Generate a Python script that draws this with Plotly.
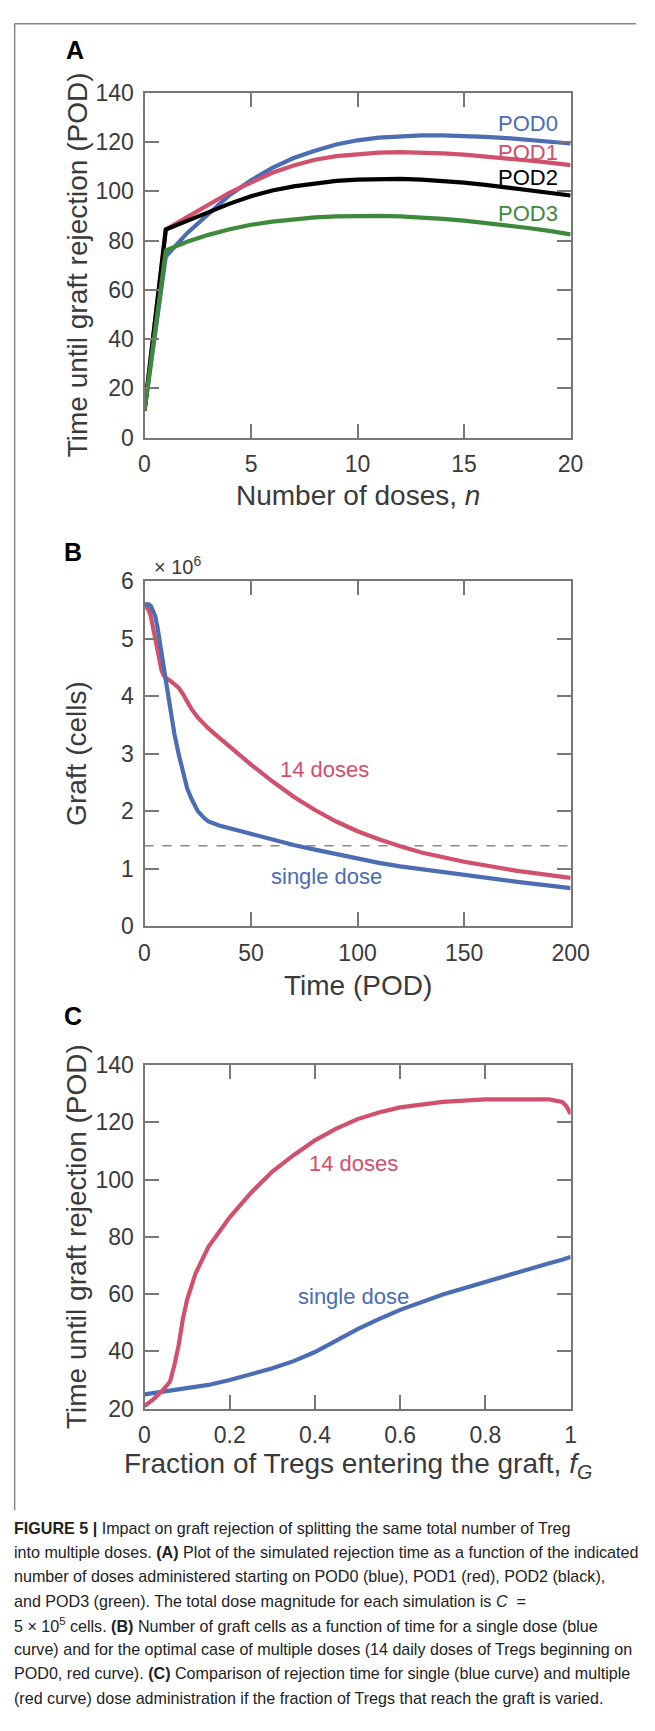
import plotly.graph_objects as go

W, H = 655, 1731

# ---------------- Panel A data ----------------
doses = list(range(0, 21))
pod0 = [11, 73.5, 83, 91, 98.5, 104.5, 109.5, 113.5, 116.5, 119, 120.7, 121.8, 122.4, 122.7, 122.7, 122.5, 122.1, 121.6, 121.0, 120.2, 119.4]
pod1 = [11, 84.5, 89.5, 94.5, 99.5, 103.5, 107.5, 110.5, 112.8, 114.3, 115.2, 115.7, 115.9, 115.8, 115.4, 114.9, 114.2, 113.4, 112.5, 111.6, 110.6]
pod2 = [11, 84.5, 88, 91.5, 95, 98, 100.3, 102, 103.3, 104.2, 104.7, 105, 105, 104.7, 104.2, 103.5, 102.6, 101.6, 100.5, 99.4, 98.3]
pod3 = [11, 76, 79.5, 82.3, 84.6, 86.4, 87.7, 88.7, 89.4, 89.8, 90, 90, 89.8, 89.4, 88.8, 88.1, 87.2, 86.2, 85.1, 83.9, 82.5]
a_names = ["POD0", "POD1", "POD2", "POD3"]

# ---------------- Panel B data (x 10^6 cells) ----------------
time_pod = [0, 2, 3, 4, 5, 6, 7, 8, 9, 10, 12, 14, 16, 18, 20, 22, 25, 28, 30, 35, 40, 50, 60, 70, 80, 90, 100, 110, 120, 130, 150, 175, 200]
graft_single = [5.60, 5.60, 5.57, 5.50, 5.40, 5.22, 5.02, 4.78, 4.52, 4.28, 3.76, 3.35, 3.00, 2.70, 2.40, 2.22, 2.00, 1.88, 1.82, 1.75, 1.70, 1.61, 1.50, 1.41, 1.33, 1.25, 1.17, 1.10, 1.04, 0.99, 0.88, 0.77, 0.66]
graft_14 = [5.60, 5.50, 5.38, 5.20, 5.02, 4.82, 4.62, 4.45, 4.36, 4.32, 4.27, 4.22, 4.15, 4.04, 3.90, 3.78, 3.63, 3.51, 3.44, 3.28, 3.12, 2.81, 2.52, 2.25, 2.02, 1.82, 1.65, 1.51, 1.39, 1.28, 1.12, 0.96, 0.84]
threshold_x = [0, 200]
threshold_y = [1.4, 1.4]

# ---------------- Panel C data ----------------
frac = [0, 0.02, 0.04, 0.06, 0.07, 0.08, 0.09, 0.1, 0.12, 0.15, 0.2, 0.25, 0.3, 0.35, 0.4, 0.45, 0.5, 0.55, 0.6, 0.7, 0.8, 0.9, 0.95, 0.98, 0.99, 1.0]
rej_14 = [20.9, 23.2, 26, 29.5, 35.2, 42.1, 51.3, 58.1, 67.3, 76.5, 86.8, 95.4, 102.8, 108.5, 113.7, 117.8, 121.1, 123.4, 125.2, 127.1, 128.0, 128.2, 128.0, 127.1, 125.7, 122.9]
rej_single = [25, 25.4, 25.8, 26.2, 26.4, 26.6, 26.8, 27.1, 27.6, 28.3, 30.0, 32.0, 34.1, 36.6, 39.8, 43.8, 47.8, 51.3, 54.5, 59.9, 64.4, 68.7, 70.8, 72.0, 72.5, 73.0]

# tick labels
a_xticks = [0, 5, 10, 15, 20]
a_yticks = [0, 20, 40, 60, 80, 100, 120, 140]
b_xticks = [0, 50, 100, 150, 200]
b_yticks = [0, 1, 2, 3, 4, 5, 6]
c_xticks = [0, 0.2, 0.4, 0.6, 0.8, 1]
c_xtext = ["0", "0.2", "0.4", "0.6", "0.8", "1"]
c_yticks = [20, 40, 60, 80, 100, 120, 140]

BLUE = "#4a6db3"
RED = "#d1506c"
BLACK = "#000000"
GREEN = "#3d8a3a"
AXC = "#777777"
TXT = "#3a3a3a"
FONT = "Liberation Sans, Arial, Helvetica, sans-serif"


def px(x):
    return x / W


def py(y):
    return 1 - y / H


L, R = 144, 587
boxes = {"A": (81, 431), "B": (577, 927), "C": (1068, 1417)}

fig = go.Figure()

# Panel A traces
for ys, c, nm in [(pod0, BLUE, "POD0"), (pod1, RED, "POD1"), (pod2, BLACK, "POD2"), (pod3, GREEN, "POD3")]:
    fig.add_trace(go.Scatter(x=doses, y=ys, mode="lines", line=dict(color=c, width=4.2), name=nm,
                             xaxis="x", yaxis="y", showlegend=False))

# Panel B traces
fig.add_trace(go.Scatter(x=threshold_x, y=threshold_y, mode="lines", line=dict(color="#888888", width=1.5, dash="dash"),
                         xaxis="x2", yaxis="y2", showlegend=False))
fig.add_trace(go.Scatter(x=time_pod, y=graft_14, mode="lines", line=dict(color=RED, width=4.2),
                         xaxis="x2", yaxis="y2", showlegend=False))
fig.add_trace(go.Scatter(x=time_pod, y=graft_single, mode="lines", line=dict(color=BLUE, width=4.2),
                         xaxis="x2", yaxis="y2", showlegend=False))

# Panel C traces
fig.add_trace(go.Scatter(x=frac, y=rej_single, mode="lines", line=dict(color=BLUE, width=4.2),
                         xaxis="x3", yaxis="y3", showlegend=False))
fig.add_trace(go.Scatter(x=frac, y=rej_14, mode="lines", line=dict(color=RED, width=4.2),
                         xaxis="x3", yaxis="y3", showlegend=False))


def ax_common(**kw):
    d = dict(showline=True, linecolor=AXC, linewidth=2, mirror="ticks", ticks="inside", ticklen=14,
             tickwidth=2, tickcolor=AXC, showgrid=False, zeroline=False,
             tickfont=dict(family=FONT, size=23, color=TXT), fixedrange=True)
    d.update(kw)
    return d


dom_x = [px(L), px(R)]
fig.update_layout(
    width=W, height=H, margin=dict(l=0, r=0, t=0, b=0),
    paper_bgcolor="white", plot_bgcolor="white",
    xaxis=ax_common(domain=dom_x, range=[0, 20], tickvals=a_xticks, anchor="y", ticklabelstandoff=5),
    yaxis=ax_common(domain=[py(boxes["A"][1]), py(boxes["A"][0])], range=[0, 140], tickvals=a_yticks, anchor="x", ticklabelstandoff=4),
    xaxis2=ax_common(domain=dom_x, range=[0, 200], tickvals=b_xticks, anchor="y2", ticklabelstandoff=5),
    yaxis2=ax_common(domain=[py(boxes["B"][1]), py(boxes["B"][0])], range=[0, 6], tickvals=b_yticks, anchor="x2", ticklabelstandoff=4),
    xaxis3=ax_common(domain=dom_x, range=[0, 1], tickvals=c_xticks, ticktext=c_xtext, anchor="y3", ticklabelstandoff=5),
    yaxis3=ax_common(domain=[py(boxes["C"][1]), py(boxes["C"][0])], range=[20, 140], tickvals=c_yticks, anchor="x3", ticklabelstandoff=4),
)

ann = []


def add_text(text, x, y, size, color=TXT, xanchor="center", yanchor="middle", angle=0, xref="paper", yref="paper"):
    ann.append(dict(text=text, x=x, y=y, xref=xref, yref=yref, xanchor=xanchor, yanchor=yanchor,
                    textangle=angle, showarrow=False, font=dict(family=FONT, size=size, color=color)))


# panel letters
add_text("<b>A</b>", px(72), py(38), 25, color="#000")
add_text("<b>B</b>", px(70), py(547), 25, color="#000")
add_text("<b>C</b>", px(70), py(1018), 25, color="#000")

cx = (L + R) / 2
# axis titles
add_text("Time until graft rejection (POD)", px(74), py((81 + 431) / 2), 28, angle=-90)
add_text("Number of doses, <i>n</i>", px(cx), py(490), 28)
add_text("Graft (cells)", px(74), py((577 + 927) / 2), 28, angle=-90)
add_text("Time (POD)", px(cx), py(987), 28)
add_text("Time until graft rejection (POD)", px(74), py((1068 + 1417) / 2), 28, angle=-90)
add_text("Fraction of Tregs entering the graft, <i>f<sub>G</sub></i>", px(cx), py(1475), 28)

# x 10^6
add_text("× 10<sup>6</sup>", px(152), py(561), 20, xanchor="left")

# series labels A
for name, c, yv in [("POD0", BLUE, 127.7), ("POD1", RED, 115.7), ("POD2", BLACK, 105.7), ("POD3", GREEN, 90.8)]:
    add_text(name, 19.5, yv, 22, color=c, xanchor="right", xref="x", yref="y")

# labels B
add_text("14 doses", 84.7, 2.73, 22, color=RED, xref="x2", yref="y2")
add_text("single dose", 85.2, 0.87, 22, color=BLUE, xref="x2", yref="y2")
# labels C
add_text("14 doses", 0.49, 105.7, 22, color=RED, xref="x3", yref="y3")
add_text("single dose", 0.49, 59.3, 22, color=BLUE, xref="x3", yref="y3")

# caption
caption = [
    "<b>FIGURE 5 |</b> Impact on graft rejection of splitting the same total number of Treg",
    "into multiple doses. <b>(A)</b> Plot of the simulated rejection time as a function of the indicated",
    "number of doses administered starting on POD0 (blue), POD1 (red), POD2 (black),",
    "and POD3 (green). The total dose magnitude for each simulation is <i>C</i>  =",
    "5 × 10<sup>5</sup> cells. <b>(B)</b> Number of graft cells as a function of time for a single dose (blue",
    "curve) and for the optimal case of multiple doses (14 daily doses of Tregs beginning on",
    "POD0, red curve). <b>(C)</b> Comparison of rejection time for single (blue curve) and multiple",
    "(red curve) dose administration if the fraction of Tregs that reach the graft is varied.",
]
for i, line in enumerate(caption):
    ann.append(dict(text=line, x=px(6), y=py(1538 + i * 24.6), xref="paper", yref="paper", xanchor="left",
                    yanchor="middle", showarrow=False,
                    font=dict(family="Liberation Sans Narrow, Arial Narrow, Liberation Sans, Arial, sans-serif", size=16.1, color="#222")))

fig.update_layout(annotations=ann)

# outer frame (top and left lines)
fig.add_shape(type="line", xref="paper", yref="paper", x0=px(9), x1=1, y0=py(11), y1=py(11), line=dict(color="#888", width=1.5))
fig.add_shape(type="line", xref="paper", yref="paper", x0=px(9), x1=px(9), y0=py(11), y1=py(1520), line=dict(color="#888", width=1.5))

fig.write_html("out.html")
